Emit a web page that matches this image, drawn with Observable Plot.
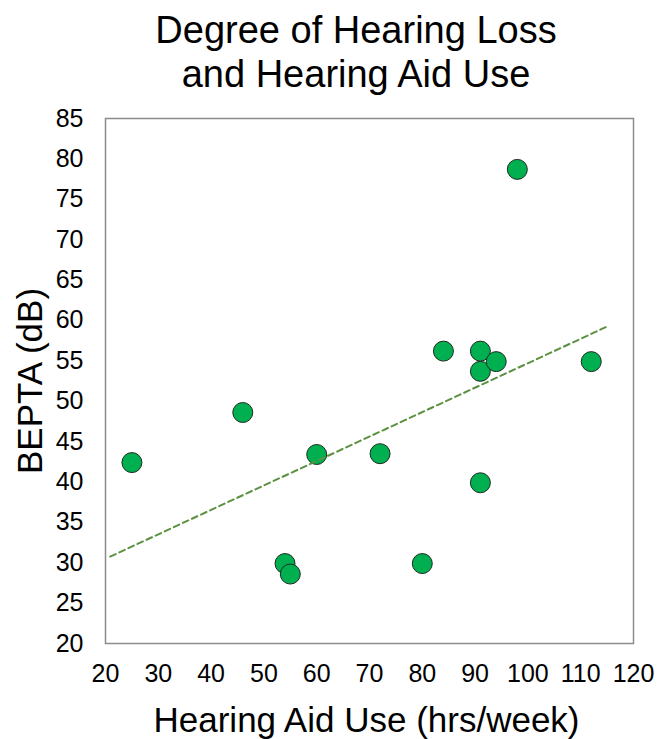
<!DOCTYPE html>
<html>
<head>
<meta charset="utf-8">
<script src="https://cdn.jsdelivr.net/npm/d3@7"></script>
<script src="https://cdn.jsdelivr.net/npm/@observablehq/plot@0.6"></script>
<style>
  html, body { margin: 0; padding: 0; background: #fff; overflow: hidden; }
  #title {
    position: absolute; left: 0; top: 0; width: 657px; height: 100px;
    box-sizing: border-box; padding-left: 55px; padding-top: 8px;
    text-align: center; font-family: "Liberation Sans", Arial, sans-serif;
    font-size: 38px; line-height: 44px; color: #000;
  }
  #chart { position: absolute; left: 0; top: 100px; }
</style>
</head>
<body>
<div id="title">Degree of Hearing Loss<br>and Hearing Aid Use</div>
<div id="chart"></div>
<script>
// Data
const hoursPerWeek = [25, 46, 54, 55, 60, 72, 80, 84, 91, 91, 94, 91, 98, 112];
const beptaDb      = [42.4, 48.6, 29.9, 28.6, 43.4, 43.5, 29.9, 56.2, 56.2, 53.7, 54.9, 39.9, 78.7, 54.9];
const xTicks = [20, 30, 40, 50, 60, 70, 80, 90, 100, 110, 120];
const yTicks = [20, 25, 30, 35, 40, 45, 50, 55, 60, 65, 70, 75, 80, 85];
const trendXExtent = [20.9, 115.2];
const xLabel = "Hearing Aid Use (hrs/week)";
const yLabel = "BEPTA (dB)";

const points = hoursPerWeek.map((h, i) => ({h, db: beptaDb[i]}));

// Least-squares trend line from the data
const mx = d3.mean(hoursPerWeek), my = d3.mean(beptaDb);
const slope = d3.sum(points, p => (p.h - mx) * (p.db - my)) / d3.sum(points, p => (p.h - mx) ** 2);
const intercept = my - slope * mx;
const trend = trendXExtent.map(h => ({h, db: intercept + slope * h}));

const chart = Plot.plot({
  width: 657,
  height: 639,
  marginLeft: 105,
  marginRight: 24,
  marginTop: 18,
  marginBottom: 96,
  style: {fontFamily: "'Liberation Sans', Arial, sans-serif", background: "white", color: "#000"},
  x: {domain: [20, 120]},
  y: {domain: [20, 85]},
  marks: [
    Plot.axisX({ticks: xTicks, tickSize: 0, tickPadding: 21, fontSize: 25, label: null}),
    Plot.axisY({ticks: yTicks, tickSize: 0, tickPadding: 22, fontSize: 25, label: null}),
    Plot.dot(points, {x: "h", y: "db", r: 10, fill: "#00B050", stroke: "#1e2a1e", strokeWidth: 1}),
    Plot.line(trend, {x: "h", y: "db", stroke: "#5B9141", strokeWidth: 2, strokeDasharray: "6,4"}),
    Plot.frame({stroke: "#8c8c8c", strokeWidth: 1.5}),
    Plot.text([xLabel], {frameAnchor: "bottom", dy: 77, dx: -3, fontSize: 35, lineAnchor: "middle", textAnchor: "middle", text: d => d, fill: "#000"}),
    Plot.text([yLabel], {frameAnchor: "left", dx: -75, rotate: -90, fontSize: 35, lineAnchor: "middle", textAnchor: "middle", text: d => d, fill: "#000"})
  ]
});
document.getElementById("chart").appendChild(chart);
</script>
</body>
</html>
